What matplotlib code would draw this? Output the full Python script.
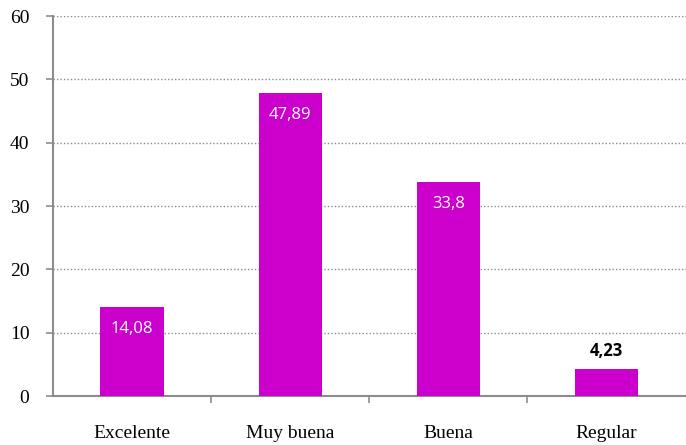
import matplotlib
matplotlib.use("Agg")
import matplotlib.pyplot as plt

categories = ["Excelente", "Muy buena", "Buena", "Regular"]
values = [14.08, 47.89, 33.8, 4.23]
value_labels = ["14,08", "47,89", "33,8", "4,23"]
yticks = [0, 10, 20, 30, 40, 50, 60]

bar_color = "#CC00CC"
axis_color = "#8C8C8C"

fig = plt.figure(figsize=(6.86, 4.45), dpi=100)
ax = fig.add_axes([0.0773, 0.110, 0.922, 0.854])

x = list(range(len(categories)))
bars = ax.bar(x, values, width=0.4, color=bar_color, zorder=3)

ax.set_xlim(-0.5, len(categories) - 0.5)
ax.set_ylim(0, 60)
ax.set_yticks(yticks)
ax.set_yticklabels([str(t) for t in yticks], family="Liberation Serif", fontsize=14)
ax.yaxis.grid(True, linestyle=(0, (1, 1.5)), color="#8C8C8C", linewidth=1.0, zorder=0)
ax.set_axisbelow(True)

# category labels centred under each bar, ticks on the category boundaries
ax.set_xticks(x)
ax.set_xticklabels(categories, family="Liberation Serif", fontsize=14)
ax.tick_params(axis="x", length=0, pad=21)
ax.set_xticks([i + 0.5 for i in x[:-1]], minor=True)
ax.tick_params(axis="x", which="minor", length=5, width=1.2, color=axis_color, direction="out")
ax.tick_params(axis="y", length=5, width=1.2, color=axis_color, direction="out", pad=12)

for side in ["top", "right"]:
    ax.spines[side].set_visible(False)
for side in ["left", "bottom"]:
    ax.spines[side].set_color(axis_color)
    ax.spines[side].set_linewidth(1.5)

for xi, v, lab in zip(x, values, value_labels):
    if v > 10:
        ax.annotate(lab, (xi, v), xytext=(0, -16), textcoords="offset points",
                    ha="center", va="center", color="white",
                    family="Open Sans", fontsize=12, zorder=4)
    else:
        ax.annotate(lab, (xi, v), xytext=(0, 13), textcoords="offset points",
                    ha="center", va="center", color="black", fontweight="bold",
                    family="Open Sans", fontsize=12, zorder=4)

fig.savefig("out.png", dpi=100)
